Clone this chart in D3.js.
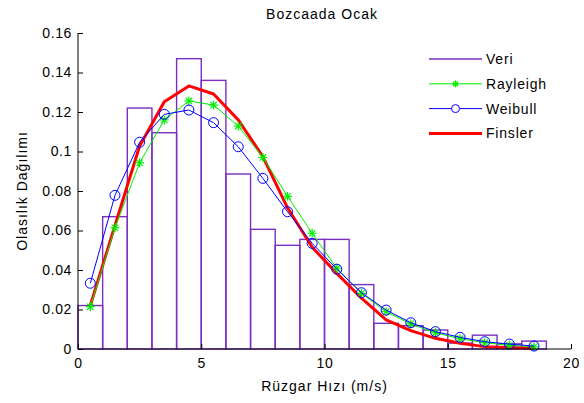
<!DOCTYPE html>
<html>
<head>
<meta charset="utf-8">
<script src="https://cdn.jsdelivr.net/npm/d3@7"></script>
<style>
    body { margin: 0; background: #fff; }
    svg { display: block; font-family: 'Liberation Sans', Arial, sans-serif; }
    .axis path, .axis line { stroke: #000; }
    .axis text { font-size: 14px; fill: #000; letter-spacing: 0.6px; }
    .label { letter-spacing: 1px; }
</style>
</head>
<body>
<svg id="chart"></svg>
<script>
// histogram bins (left edges, width 1 m/s) and their heights
const binEdges = [0, 1, 2, 3, 4, 5, 6, 7, 8, 9, 10, 11, 12, 13, 14, 15, 16, 17, 18]
const veri = [0.022, 0.067, 0.122, 0.1095, 0.147, 0.136, 0.0886, 0.0606, 0.0525, 0.0555,
    0.0555, 0.0326, 0.013, 0.0118, 0.0096, 0.003, 0.007, 0.0026, 0.004]

// fitted curves evaluated at bin centres
const speeds = [0.5, 1.5, 2.5, 3.5, 4.5, 5.5, 6.5, 7.5, 8.5, 9.5, 10.5, 11.5, 12.5, 13.5, 14.5, 15.5, 16.5, 17.5, 18.5]
const rayleigh = [0.0214, 0.0614, 0.0943, 0.116, 0.1256, 0.1235, 0.1129, 0.097, 0.0773, 0.0586,
    0.0409, 0.0282, 0.0189, 0.0127, 0.0082, 0.0052, 0.0032, 0.0019, 0.0011]
const weibull = [0.0333, 0.0778, 0.1047, 0.1188, 0.121, 0.1146, 0.1024, 0.0864, 0.0695, 0.0535,
    0.0404, 0.0285, 0.0197, 0.0133, 0.0088, 0.0059, 0.0037, 0.0025, 0.0015]
const finsler = [0.022, 0.0625, 0.1028, 0.1252, 0.1332, 0.1291, 0.116, 0.0974, 0.0715, 0.0515,
    0.0383, 0.0257, 0.0147, 0.0093, 0.0054, 0.0029, 0.0012, 0.0007, 0.0004]

const xTicks = [0, 5, 10, 15, 20]
const yTicks = [0, 0.02, 0.04, 0.06, 0.08, 0.1, 0.12, 0.14, 0.16]

const width = 584
const height = 403
const margin = { top: 33, right: 13, bottom: 54, left: 78 }

const svg = d3.select('#chart')
    .attr('width', width)
    .attr('height', height)

const x = d3.scaleLinear().domain([0, 20]).range([margin.left, width - margin.right])
const y = d3.scaleLinear().domain([0, 0.16]).range([height - margin.bottom, margin.top])

// histogram bars
svg.append('g')
    .selectAll('rect')
    .data(veri)
    .join('rect')
    .attr('x', (d, i) => x(binEdges[i]))
    .attr('y', d => y(d))
    .attr('width', (d, i) => x(binEdges[i] + 1) - x(binEdges[i]))
    .attr('height', d => y(0) - y(d))
    .attr('fill', 'none')
    .attr('stroke', '#7a2fc0')
    .attr('stroke-width', 1.4)

const line = d3.line()
    .x((d, i) => x(speeds[i]))
    .y(d => y(d))

// Finsler: thick red line
svg.append('path')
    .datum(finsler)
    .attr('d', line)
    .attr('fill', 'none')
    .attr('stroke', '#ff0000')
    .attr('stroke-width', 3)
    .attr('stroke-linejoin', 'round')

// Rayleigh: green with star markers
svg.append('path')
    .datum(rayleigh)
    .attr('d', line)
    .attr('fill', 'none')
    .attr('stroke', '#00ee00')
    .attr('stroke-width', 1)

function drawStar(g, cx, cy, r = 4.5) {
    for (let k = 0; k < 4; k++) {
        const a = k * Math.PI / 4
        g.append('line')
            .attr('x1', cx - r * Math.cos(a)).attr('y1', cy - r * Math.sin(a))
            .attr('x2', cx + r * Math.cos(a)).attr('y2', cy + r * Math.sin(a))
            .attr('stroke', '#00ee00')
            .attr('stroke-width', 1.2)
    }
}
const starGroup = svg.append('g')
rayleigh.forEach((d, i) => drawStar(starGroup, x(speeds[i]), y(d)))

// Weibull: blue with circle markers
svg.append('path')
    .datum(weibull)
    .attr('d', line)
    .attr('fill', 'none')
    .attr('stroke', '#0000ff')
    .attr('stroke-width', 1)

svg.append('g')
    .selectAll('circle')
    .data(weibull)
    .join('circle')
    .attr('cx', (d, i) => x(speeds[i]))
    .attr('cy', d => y(d))
    .attr('r', 5)
    .attr('fill', 'none')
    .attr('stroke', '#0000ff')
    .attr('stroke-width', 1)

// axes, ticks pointing inward
const xAxis = d3.axisBottom(x).tickValues(xTicks).tickSize(-5).tickPadding(9).tickFormat(d3.format('d'))
const yAxis = d3.axisLeft(y).tickValues(yTicks).tickSize(-5).tickPadding(6).tickFormat(d => d === 0 ? '0' : String(+d.toFixed(2)))

svg.append('g')
    .attr('class', 'axis')
    .attr('transform', `translate(0,${y(0)})`)
    .call(xAxis)
    .call(g => g.select('.domain').attr('d', `M${x(0)},0H${x(20)}`))

svg.append('g')
    .attr('class', 'axis')
    .attr('transform', `translate(${x(0)},0)`)
    .call(yAxis)
    .call(g => g.select('.domain').attr('d', `M0,${y(0)}V${y(0.16)}`))

// title and axis labels
svg.append('text')
    .attr('class', 'label')
    .attr('x', 322)
    .attr('y', 19)
    .attr('text-anchor', 'middle')
    .attr('font-size', 14)
    .text('Bozcaada Ocak')

svg.append('text')
    .attr('class', 'label')
    .attr('x', (x(0) + x(20)) / 2)
    .attr('y', 391)
    .attr('text-anchor', 'middle')
    .attr('font-size', 14)
    .text('Rüzgar Hızı (m/s)')

svg.append('text')
    .attr('class', 'label')
    .attr('transform', `translate(27,${(y(0) + y(0.16)) / 2}) rotate(-90)`)
    .attr('text-anchor', 'middle')
    .attr('font-size', 14)
    .text('Olasılık Dağılımı')

// legend
const legendItems = [
    { name: 'Veri', color: '#7a2fc0', width: 1.4, marker: null },
    { name: 'Rayleigh', color: '#00ee00', width: 1, marker: 'star' },
    { name: 'Weibull', color: '#0000ff', width: 1, marker: 'circle' },
    { name: 'Finsler', color: '#ff0000', width: 3, marker: null },
]
const legend = svg.append('g').attr('transform', 'translate(429,59)')
legendItems.forEach((item, i) => {
    const g = legend.append('g').attr('transform', `translate(0,${i * 24.8})`)
    g.append('line')
        .attr('x1', 0).attr('x2', 53)
        .attr('stroke', item.color)
        .attr('stroke-width', item.width)
    if (item.marker === 'star') drawStar(g, 26.5, 0, 3.5)
    if (item.marker === 'circle') {
        g.append('circle').attr('cx', 26.5).attr('r', 4)
            .attr('fill', '#fff').attr('stroke', item.color)
    }
    g.append('text')
        .attr('x', 57)
        .attr('y', 5)
        .attr('font-size', 14)
        .attr('letter-spacing', '0.8px')
        .text(item.name)
})
</script>
</body>
</html>
